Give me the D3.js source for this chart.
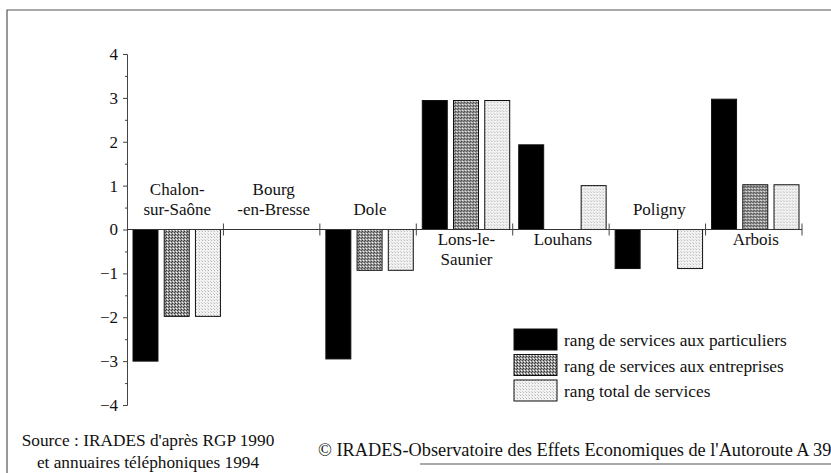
<!DOCTYPE html>
<html>
<head>
<meta charset="utf-8">
<script src="https://cdn.jsdelivr.net/npm/d3@7"></script>
<style>
  body { margin: 0; background: #fff; }
  text { font-family: 'Liberation Serif', 'Times New Roman', serif; fill: #111; }
</style>
</head>
<body>
<div id="chart"></div>
<script>
// data
const categories = ['Chalon-\nsur-Saône', 'Bourg\n-en-Bresse', 'Dole', 'Lons-le-\nSaunier', 'Louhans', 'Poligny', 'Arbois']
const seriesNames = [
  'rang de services aux particuliers',
  'rang de services aux entreprises',
  'rang total de services'
]
const particuliers = [-3.0, 0, -2.95, 2.94, 1.93, -0.89, 2.97]
const entreprises = [-1.98, 0, -0.93, 2.94, 0, 0, 1.02]
const total = [-1.98, 0, -0.93, 2.94, 1.0, -0.89, 1.02]
const yTicks = [-4, -3, -2, -1, 0, 1, 2, 3, 4]
const yMinorTicks = [-3.5, -2.5, -1.5, -0.5, 0.5, 1.5, 2.5, 3.5]
const sourceLines = ["Source : IRADES d'après RGP 1990", 'et annuaires téléphoniques 1994']
const copyright = "© IRADES-Observatoire des Effets Economiques de l'Autoroute A 39"

const width = 831
const height = 473

const svg = d3
  .select('#chart')
  .append('svg')
  .attr('width', width)
  .attr('height', height)

// fills: solid black, dark dither, light dither
const defs = svg.append('defs')
const dark = defs.append('pattern')
  .attr('id', 'dark').attr('width', 3).attr('height', 3)
  .attr('patternUnits', 'userSpaceOnUse')
dark.append('rect').attr('width', 3).attr('height', 3).attr('fill', '#9a9a9a')
dark.append('rect').attr('width', 1).attr('height', 1).attr('fill', '#333')
dark.append('rect').attr('x', 2).attr('y', 1).attr('width', 1).attr('height', 1).attr('fill', '#444')
dark.append('rect').attr('x', 1).attr('y', 2).attr('width', 1).attr('height', 1).attr('fill', '#fff')
const light = defs.append('pattern')
  .attr('id', 'light').attr('width', 3).attr('height', 3)
  .attr('patternUnits', 'userSpaceOnUse')
light.append('rect').attr('width', 3).attr('height', 3).attr('fill', '#f2f2f2')
light.append('rect').attr('width', 1).attr('height', 1).attr('fill', '#b8b8b8')
light.append('rect').attr('x', 2).attr('y', 2).attr('width', 1).attr('height', 1).attr('fill', '#d0d0d0')

const colorScale = d3.scaleOrdinal()
  .domain(seriesNames)
  .range(['#000', 'url(#dark)', 'url(#light)'])

// frame
svg.append('path')
  .attr('d', 'M7,473 L7,10 L831,10')
  .attr('fill', 'none').attr('stroke', '#555').attr('stroke-width', 1.2)
svg.append('line')
  .attr('x1', 420).attr('x2', 831).attr('y1', 464).attr('y2', 464)
  .attr('stroke', '#555').attr('stroke-width', 1.2)

const xScale = d3.scaleBand().domain(categories).range([127, 802])
const xSub = d3.scaleBand()
  .domain(seriesNames)
  .range([6, xScale.bandwidth() - 3])
  .paddingInner(0.2)
const yScale = d3.scaleLinear().domain([-4, 4]).range([405, 54])

const rows = categories.map((c, i) => ({
  category: c,
  values: [particuliers[i], entreprises[i], total[i]].map((v, j) => ({ key: seriesNames[j], value: v }))
}))

// y axis
svg.append('g')
  .attr('class', 'axis y-axis')
  .attr('transform', 'translate(127,0)')
  .call(d3.axisLeft(yScale).tickValues(yMinorTicks).tickSize(2).tickSizeOuter(0).tickFormat(''))
svg.append('g')
  .attr('class', 'axis y-axis')
  .attr('transform', 'translate(127,0)')
  .call(d3.axisLeft(yScale).tickValues(yTicks).tickSize(4).tickSizeOuter(0).tickPadding(5).tickFormat(d3.format('d')))
svg.selectAll('.y-axis path, .y-axis line').attr('stroke', '#444')
svg.selectAll('.y-axis text')
  .style('font-family', "'Liberation Serif', 'Times New Roman', serif")
  .style('font-size', '17px')
  .attr('fill', '#111')

// bars
const groups = svg.selectAll('.group')
  .data(rows)
  .enter()
  .append('g')
  .attr('class', 'group')
  .attr('transform', d => 'translate(' + xScale(d.category) + ',0)')

groups.selectAll('rect')
  .data(d => d.values.filter(v => v.value !== 0))
  .enter()
  .append('rect')
  .attr('x', d => xSub(d.key))
  .attr('width', xSub.bandwidth())
  .attr('y', d => yScale(Math.max(0, d.value)))
  .attr('height', d => Math.abs(yScale(d.value) - yScale(0)))
  .attr('fill', d => colorScale(d.key))
  .attr('stroke', '#111')
  .attr('stroke-width', 1)

// x axis at zero with separators between towns
const y0 = yScale(0)
svg.append('line')
  .attr('x1', xScale.range()[0]).attr('x2', xScale.range()[1])
  .attr('y1', y0).attr('y2', y0)
  .attr('stroke', '#333')
const seps = categories.slice(1).map(c => xScale(c)).concat([xScale.range()[1]])
svg.selectAll('.sep')
  .data(seps)
  .enter()
  .append('line')
  .attr('class', 'sep')
  .attr('x1', d => d).attr('x2', d => d)
  .attr('y1', y0 - 6).attr('y2', y0 + 6)
  .attr('stroke', '#444')

// town labels: above the axis when the bars go down, below when they go up
groups.each(function(d) {
  const lines = d.category.split('\n')
  const up = d3.max(d.values, v => v.value) > 0
  const cx = xScale.bandwidth() / 2 + 2
  const t = d3.select(this).append('text')
    .attr('text-anchor', 'middle')
    .style('font-size', '17px')
  lines.forEach((line, k) => {
    const yy = up ? y0 + 15 + k * 20 : y0 - 15 - (lines.length - 1 - k) * 20
    t.append('tspan').attr('x', cx).attr('y', yy).text(line)
  })
})

// legend
const legend = svg.append('g').attr('transform', 'translate(514,329)')
seriesNames.forEach((name, i) => {
  legend.append('rect')
    .attr('x', 0).attr('y', i * 25.5)
    .attr('width', 43).attr('height', 21)
    .attr('fill', colorScale(name))
    .attr('stroke', '#111')
  legend.append('text')
    .attr('x', 50).attr('y', i * 25.5 + 17)
    .style('font-size', '17.3px')
    .text(name)
})

// source and copyright
svg.selectAll('.source')
  .data(sourceLines)
  .enter()
  .append('text')
  .attr('class', 'source')
  .attr('x', 148)
  .attr('y', (d, i) => 446 + i * 22)
  .attr('text-anchor', 'middle')
  .style('font-size', '17.3px')
  .text(d => d)

svg.append('text')
  .attr('x', 318)
  .attr('y', 456)
  .style('font-size', '18.3px')
  .text(copyright)
</script>
</body>
</html>
